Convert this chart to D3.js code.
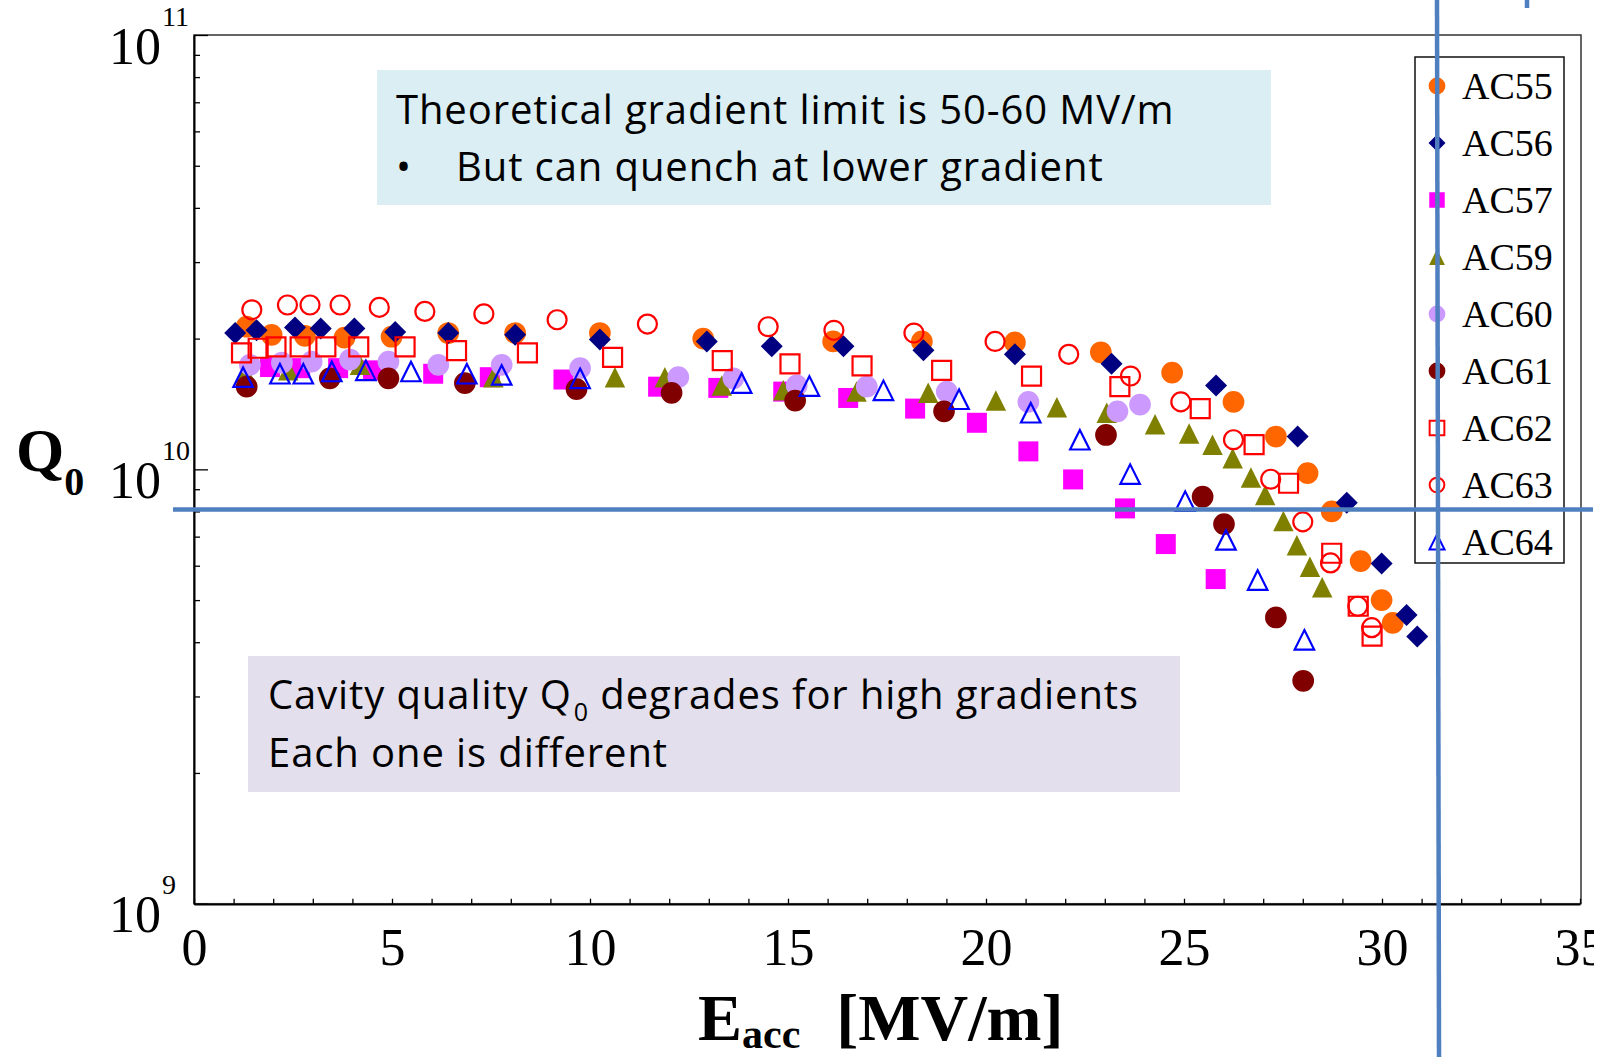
<!DOCTYPE html>
<html>
<head>
<meta charset="utf-8">
<script src="https://cdn.jsdelivr.net/npm/d3@7"></script>
<style>
  body { margin: 0; background: #fff; }
  svg { display: block; }
  .serif { font-family: "Liberation Serif", "Times New Roman", serif; }
  .note { font-family: "Open Sans", Lato, sans-serif; fill: #000; letter-spacing: 0.9px; }
</style>
</head>
<body>
<svg width="1612" height="1057"></svg>
<script>
// Q0 vs Eacc per cavity, [Eacc MV/m, Q0 in units of 1e10]
const names = ["AC55", "AC56", "AC57", "AC59", "AC60", "AC61", "AC62", "AC63", "AC64"]

const ac55 = [[1.33,2.13],[1.96,2.04],[2.8,2.03],[3.8,2.01],[4.99,2.02],[6.42,2.06],[8.11,2.06],[10.25,2.06],[12.86,2.0],[16.14,1.97],[18.38,1.97],[20.73,1.96],[22.9,1.86],[24.7,1.67],[26.25,1.43],[27.32,1.19],[28.12,0.98],[28.73,0.80],[29.46,0.615],[29.99,0.50],[30.27,0.443]]
const ac56 = [[1.04,2.06],[1.58,2.09],[2.55,2.12],[3.2,2.11],[4.05,2.11],[5.08,2.07],[6.42,2.06],[8.11,2.04],[10.25,1.99],[12.95,1.97],[14.59,1.92],[16.4,1.92],[18.42,1.88],[20.73,1.84],[23.17,1.75],[25.81,1.56],[27.87,1.19],[29.11,0.838],[29.99,0.607],[30.62,0.462],[30.89,0.412]]
const ac57 = [[1.92,1.72],[2.68,1.71],[3.64,1.71],[4.52,1.69],[6.04,1.66],[7.47,1.63],[9.33,1.61],[11.72,1.55],[13.24,1.54],[14.88,1.51],[16.52,1.46],[18.21,1.38],[19.77,1.28],[21.07,1.10],[22.2,0.948],[23.51,0.813],[24.54,0.673],[25.8,0.559]]
const ac59 = [[1.29,1.67],[2.38,1.69],[4.19,1.74],[7.56,1.63],[10.63,1.63],[11.89,1.63],[13.33,1.56],[14.88,1.52],[16.73,1.51],[18.54,1.50],[20.25,1.44],[21.79,1.39],[23.05,1.35],[24.27,1.27],[25.13,1.21],[25.72,1.14],[26.23,1.06],[26.69,0.958],[27.05,0.873],[27.51,0.76],[27.85,0.669],[28.18,0.597],[28.49,0.535]]
const ac60 = [[1.41,1.74],[2.22,1.76],[2.97,1.77],[3.94,1.79],[4.91,1.77],[6.17,1.74],[7.77,1.74],[9.75,1.71],[12.23,1.63],[13.62,1.62],[15.22,1.56],[16.99,1.55],[19.01,1.51],[21.07,1.43],[23.32,1.36],[23.89,1.41]]
const ac61 = [[1.33,1.55],[3.43,1.62],[4.91,1.62],[6.84,1.58],[9.66,1.53],[12.06,1.50],[15.18,1.44],[18.94,1.36],[23.03,1.20],[25.47,0.865],[26.01,0.748],[27.32,0.456],[28.01,0.326]]
const ac62 = [[1.2,1.855],[1.62,1.90],[2.07,1.915],[2.68,1.915],[3.33,1.915],[4.16,1.915],[5.33,1.915],[6.63,1.876],[8.42,1.855],[10.57,1.81],[13.34,1.78],[15.05,1.75],[16.87,1.73],[18.88,1.69],[21.15,1.64],[23.38,1.55],[25.41,1.38],[26.77,1.14],[27.64,0.929],[28.73,0.641],[29.4,0.484],[29.75,0.413]]
const ac63 = [[1.46,2.33],[2.36,2.39],[2.93,2.39],[3.69,2.39],[4.68,2.36],[5.83,2.31],[7.32,2.28],[9.17,2.21],[11.45,2.16],[14.5,2.13],[16.16,2.09],[18.18,2.06],[20.23,1.97],[22.09,1.84],[23.65,1.64],[24.92,1.43],[26.25,1.17],[27.19,0.949],[28.0,0.757],[28.7,0.609],[29.39,0.484],[29.74,0.432]]
const ac64 = [[1.24,1.63],[2.17,1.66],[2.76,1.66],[3.48,1.68],[4.34,1.69],[5.48,1.68],[6.89,1.66],[7.77,1.65],[9.75,1.62],[13.83,1.58],[15.54,1.555],[17.41,1.52],[19.32,1.45],[21.13,1.35],[22.37,1.17],[23.64,0.975],[25.03,0.845],[26.06,0.688],[26.86,0.556],[28.04,0.405]]

const allData = [ac55, ac56, ac57, ac59, ac60, ac61, ac62, ac63, ac64]

const xTicks = [0, 5, 10, 15, 20, 25, 30, 35]
const yTicks = [0.1, 1, 10]   // 1e9, 1e10, 1e11

// marker shapes
const diamond = { draw(ctx, size) { const r = Math.sqrt(size) / 2; ctx.moveTo(0, -r); ctx.lineTo(r, 0); ctx.lineTo(0, r); ctx.lineTo(-r, 0); ctx.closePath() } }
const triangle = { draw(ctx, size) { const r = Math.sqrt(size) / 2; ctx.moveTo(0, -r); ctx.lineTo(r, r); ctx.lineTo(-r, r); ctx.closePath() } }

const styles = [
    { type: d3.symbolCircle, size: 370, fill: "#ff6600", stroke: "none" },
    { type: diamond, size: 484, fill: "#000080", stroke: "none" },
    { type: d3.symbolSquare, size: 400, fill: "#ff00ff", stroke: "none" },
    { type: triangle, size: 420, fill: "#808000", stroke: "none" },
    { type: d3.symbolCircle, size: 370, fill: "#cc99ff", stroke: "none" },
    { type: d3.symbolCircle, size: 370, fill: "#800000", stroke: "none" },
    { type: d3.symbolSquare, size: 361, fill: "none", stroke: "#ff0000" },
    { type: d3.symbolCircle, size: 283, fill: "none", stroke: "#ff0000" },
    { type: triangle, size: 380, fill: "none", stroke: "#0000ff" }
]

const svg = d3.select("svg")

const x = d3.scaleLinear().domain([0, 35]).range([194, 1580])
const y = d3.scaleLog().domain([0.1, 10]).range([903.7, 35])

// annotation boxes
svg.append("rect").attr("x", 377).attr("y", 70).attr("width", 894).attr("height", 135).attr("fill", "#daeef3")
svg.append("rect").attr("x", 248).attr("y", 656).attr("width", 932).attr("height", 136).attr("fill", "#e4dfec")

svg.append("text").attr("class", "note").attr("x", 396).attr("y", 124).attr("font-size", 40)
    .text("Theoretical gradient limit is 50-60 MV/m")
svg.append("text").attr("class", "note").attr("x", 396).attr("y", 181).attr("font-size", 40).text("•")
svg.append("text").attr("class", "note").attr("x", 456).attr("y", 181).attr("font-size", 40)
    .text("But can quench at lower gradient")

const cav = svg.append("text").attr("class", "note").attr("x", 268).attr("y", 709).attr("font-size", 40)
cav.append("tspan").text("Cavity quality Q")
cav.append("tspan").attr("font-size", 25).attr("dx", 2).attr("dy", 12).text("0")
cav.append("tspan").attr("dy", -12).text(" degrades for high gradients")
svg.append("text").attr("class", "note").attr("x", 268).attr("y", 767).attr("font-size", 40)
    .text("Each one is different")

// frame
svg.append("rect").attr("x", 194).attr("y", 35).attr("width", 1387).attr("height", 868.7)
    .attr("fill", "none").attr("stroke", "#333").attr("stroke-width", 1.5)

// x axis: minor + major ticks pointing inward
svg.append("clipPath").attr("id", "cut").append("rect")
    .attr("x", 0).attr("y", 0).attr("width", 1594).attr("height", 1057)

const xMinor = svg.append("g").attr("transform", "translate(0,903.7)")
    .call(d3.axisBottom(x).tickValues(d3.range(0, 36, 1)).tickSize(-5).tickSizeOuter(0).tickFormat(""))
const xMajor = svg.append("g").attr("class", "serif").attr("transform", "translate(0,903.7)")
    .attr("clip-path", "url(#cut)")
    .call(d3.axisBottom(x).tickValues(xTicks).tickSize(-13).tickSizeOuter(0).tickPadding(24))
xMajor.selectAll("text").attr("font-size", 52).attr("fill", "#000")
    .attr("font-family", '"Liberation Serif", "Times New Roman", serif')
xMajor.select(".domain").attr("stroke", "#000").attr("stroke-width", 2.5)
xMinor.select(".domain").remove()

// y axis: minor ticks at 2..9 of every decade
const yMinorVals = [0.1, 1].flatMap(d => d3.range(2, 10).map(k => d * k))
const yMinor = svg.append("g").attr("transform", "translate(194,0)")
    .call(d3.axisLeft(y).tickValues(yMinorVals).tickSize(-6).tickFormat(""))
yMinor.select(".domain").remove()
const yMajor = svg.append("g").attr("class", "serif").attr("transform", "translate(194,0)")
    .call(d3.axisLeft(y).tickValues(yTicks).tickSize(-14).tickSizeOuter(0).tickFormat(""))
yMajor.select(".domain").attr("stroke", "#000").attr("stroke-width", 2)
svg.selectAll("g.tick line").attr("stroke", "#000").attr("stroke-width", 1.3)

yMajor.selectAll("g.tick").each(function (d) {
    const g = d3.select(this)
    g.append("text").attr("x", -33).attr("y", 28).attr("text-anchor", "end")
        .attr("font-size", 52).attr("fill", "#000").text("10")
    g.append("text").attr("x", -32).attr("y", -10).attr("text-anchor", "start")
        .attr("font-size", 28).attr("fill", "#000").text(Math.round(Math.log10(d * 1e10)))
})

// axis titles
const q0 = svg.append("text").attr("class", "serif").attr("x", 16).attr("y", 471)
    .attr("font-weight", "bold").attr("font-size", 62)
q0.append("tspan").text("Q")
q0.append("tspan").attr("font-size", 40).attr("dy", 24).text("0")

const ex = svg.append("text").attr("class", "serif").attr("x", 698).attr("y", 1040)
    .attr("font-weight", "bold").attr("font-size", 66)
ex.append("tspan").text("E")
ex.append("tspan").attr("font-size", 42).attr("dy", 8).text("acc")
ex.append("tspan").attr("dy", -8).attr("dx", 36).text("[MV/m]")

// data points
allData.forEach((data, i) => {
    const s = styles[i]
    svg.append("g")
        .selectAll("path")
        .data(data)
        .enter()
        .append("path")
        .attr("transform", d => `translate(${x(d[0])},${y(d[1])})`)
        .attr("d", d3.symbol().type(s.type).size(s.size))
        .attr("fill", s.fill)
        .attr("stroke", s.stroke)
        .attr("stroke-width", 2.2)
})

// legend
svg.append("rect").attr("x", 1415).attr("y", 57).attr("width", 149).attr("height", 506)
    .attr("fill", "#fff").attr("stroke", "#111").attr("stroke-width", 1.5)
const leg = svg.append("g").selectAll("g").data(names).enter().append("g")
    .attr("transform", (d, i) => `translate(1437,${86 + 57 * i})`)
leg.append("path")
    .attr("d", (d, i) => d3.symbol().type(styles[i].type).size(styles[i].size * 0.6)())
    .attr("fill", (d, i) => styles[i].fill)
    .attr("stroke", (d, i) => styles[i].stroke)
    .attr("stroke-width", 2)
leg.append("text").attr("class", "serif").attr("x", 25).attr("y", 13)
    .attr("font-size", 38).attr("fill", "#000").text(d => d)

// blue guide lines drawn over the chart
const guide = "#4f7fbf"
svg.append("line").attr("x1", 173).attr("x2", 1593).attr("y1", 509.5).attr("y2", 509.5)
    .attr("stroke", guide).attr("stroke-width", 4.5)
svg.append("line").attr("x1", 1437).attr("x2", 1439).attr("y1", 0).attr("y2", 1057)
    .attr("stroke", guide).attr("stroke-width", 4.5)
svg.append("line").attr("x1", 1527).attr("x2", 1527).attr("y1", 0).attr("y2", 8)
    .attr("stroke", guide).attr("stroke-width", 4.5)
</script>
</body>
</html>
